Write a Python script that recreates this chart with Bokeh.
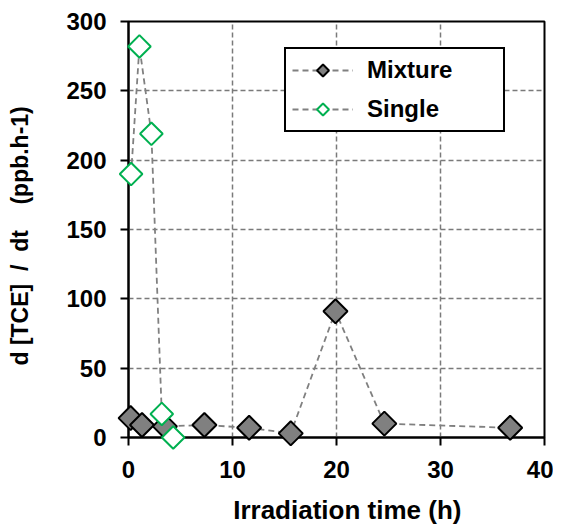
import math
from bokeh.plotting import figure
from bokeh.models import Range1d, Legend, LegendItem, FixedTicker, ColumnDataSource
from bokeh.embed import file_html
from bokeh.resources import INLINE

# ---- data ----
mix_x = [0.2, 1.3, 3.5, 7.3, 11.6, 15.6, 19.9, 24.6, 36.7]
mix_y = [14, 9, 8, 9, 7, 3, 91, 10, 7]
single_x = [0.25, 1.05, 2.2, 3.2, 4.3]
single_y = [190, 282, 219, 17, 0]
x_ticks = [0, 10, 20, 30, 40]
y_ticks = [0, 50, 100, 150, 200, 250, 300]
series_names = ["Mixture", "Single"]

FONT = "Liberation Sans"
GRAY = "#808080"
GREEN = "#00B050"
NB = "\u00a0"

p = figure(width=553, height=527, output_backend="svg", toolbar_location=None,
           x_range=Range1d(0, 40), y_range=Range1d(0, 300),
           min_border_left=128, min_border_right=9, min_border_top=21, min_border_bottom=90)

p.outline_line_color = "black"
p.outline_line_width = 2
p.outline_line_alpha = 1

for ax in (p.xaxis[0], p.yaxis[0]):
    ax.axis_line_color = "black"
    ax.axis_line_width = 2
    ax.major_tick_line_color = "black"
    ax.major_tick_line_width = 2
    ax.major_tick_in = 0
    ax.major_tick_out = 8
    ax.minor_tick_line_color = None
    ax.major_label_text_font = FONT
    ax.major_label_text_font_style = "bold"
    ax.major_label_text_font_size = "24px"
    ax.major_label_text_color = "black"
    ax.axis_label_text_font = FONT
    ax.axis_label_text_font_style = "bold"
    ax.axis_label_text_color = "black"

p.xaxis.ticker = FixedTicker(ticks=x_ticks)
p.yaxis.ticker = FixedTicker(ticks=y_ticks)
p.xaxis.major_label_standoff = 15
p.yaxis.major_label_standoff = 14
p.xaxis.axis_label = NB * 3 + "Irradiation time (h)"
p.yaxis.axis_label = "d [TCE]" + NB + " / " + NB + "dt" + NB * 4 + "(ppb.h-1)" + NB * 2
p.xaxis.axis_label_text_font_size = "26px"
p.yaxis.axis_label_text_font_size = "23px"
p.xaxis.axis_label_standoff = 14
p.yaxis.axis_label_standoff = 30

p.grid.grid_line_color = "#7a7a7a"
p.grid.grid_line_width = 1.5
p.grid.grid_line_dash = "5 3"
p.xgrid.ticker = FixedTicker(ticks=x_ticks[1:-1])
p.ygrid.ticker = FixedTicker(ticks=y_ticks[1:-1])

mix_src = ColumnDataSource(dict(x=mix_x, y=mix_y))
single_src = ColumnDataSource(dict(x=single_x, y=single_y))

p.line("x", "y", source=mix_src, line_color=GRAY, line_width=1.8, line_dash="6 4")
p.scatter("x", "y", source=mix_src, marker="square", angle=math.pi / 4, size=17,
          fill_color=GRAY, line_color="black", line_width=2, level="overlay")
p.line("x", "y", source=single_src, line_color=GRAY, line_width=1.8, line_dash="6 4")
p.scatter("x", "y", source=single_src, marker="square", angle=math.pi / 4, size=16,
          fill_color="white", line_color=GREEN, line_width=2, level="overlay")

# legend-only renderers (no data drawn)
nan_src = ColumnDataSource(dict(x=[float("nan")], y=[float("nan")]))
lm_line = p.line("x", "y", source=nan_src, line_color=GRAY, line_width=1.8, line_dash="6 4")
ls_line = p.line("x", "y", source=nan_src, line_color=GRAY, line_width=1.8, line_dash="6 4")
if hasattr(p, "ngon"):
    lm_pt = p.ngon("x", "y", source=nan_src, radius=7, radius_units="screen", n=4, angle=0,
                   fill_color=GRAY, line_color="black", line_width=2)
    ls_pt = p.ngon("x", "y", source=nan_src, radius=7, radius_units="screen", n=4, angle=0,
                   fill_color="white", line_color=GREEN, line_width=2)
else:
    lm_pt = p.scatter("x", "y", source=nan_src, marker="square", size=10,
                      fill_color=GRAY, line_color="black", line_width=2)
    ls_pt = p.scatter("x", "y", source=nan_src, marker="square", size=10,
                      fill_color="white", line_color=GREEN, line_width=2)

legend = Legend(items=[LegendItem(label=series_names[0], renderers=[lm_line, lm_pt]),
                       LegendItem(label=series_names[1], renderers=[ls_line, ls_pt])],
                location=(156, 305), orientation="vertical",
                border_line_color="black", border_line_width=2, border_line_alpha=1,
                background_fill_alpha=1, background_fill_color="white",
                label_text_font=FONT, label_text_font_style="bold",
                label_text_font_size="24px", label_text_color="black",
                glyph_width=61, glyph_height=30, label_height=30, label_width=130,
                label_standoff=14, spacing=9, padding=6, margin=0)
p.add_layout(legend, "center")

open("out.html", "w").write(file_html(p, INLINE))
